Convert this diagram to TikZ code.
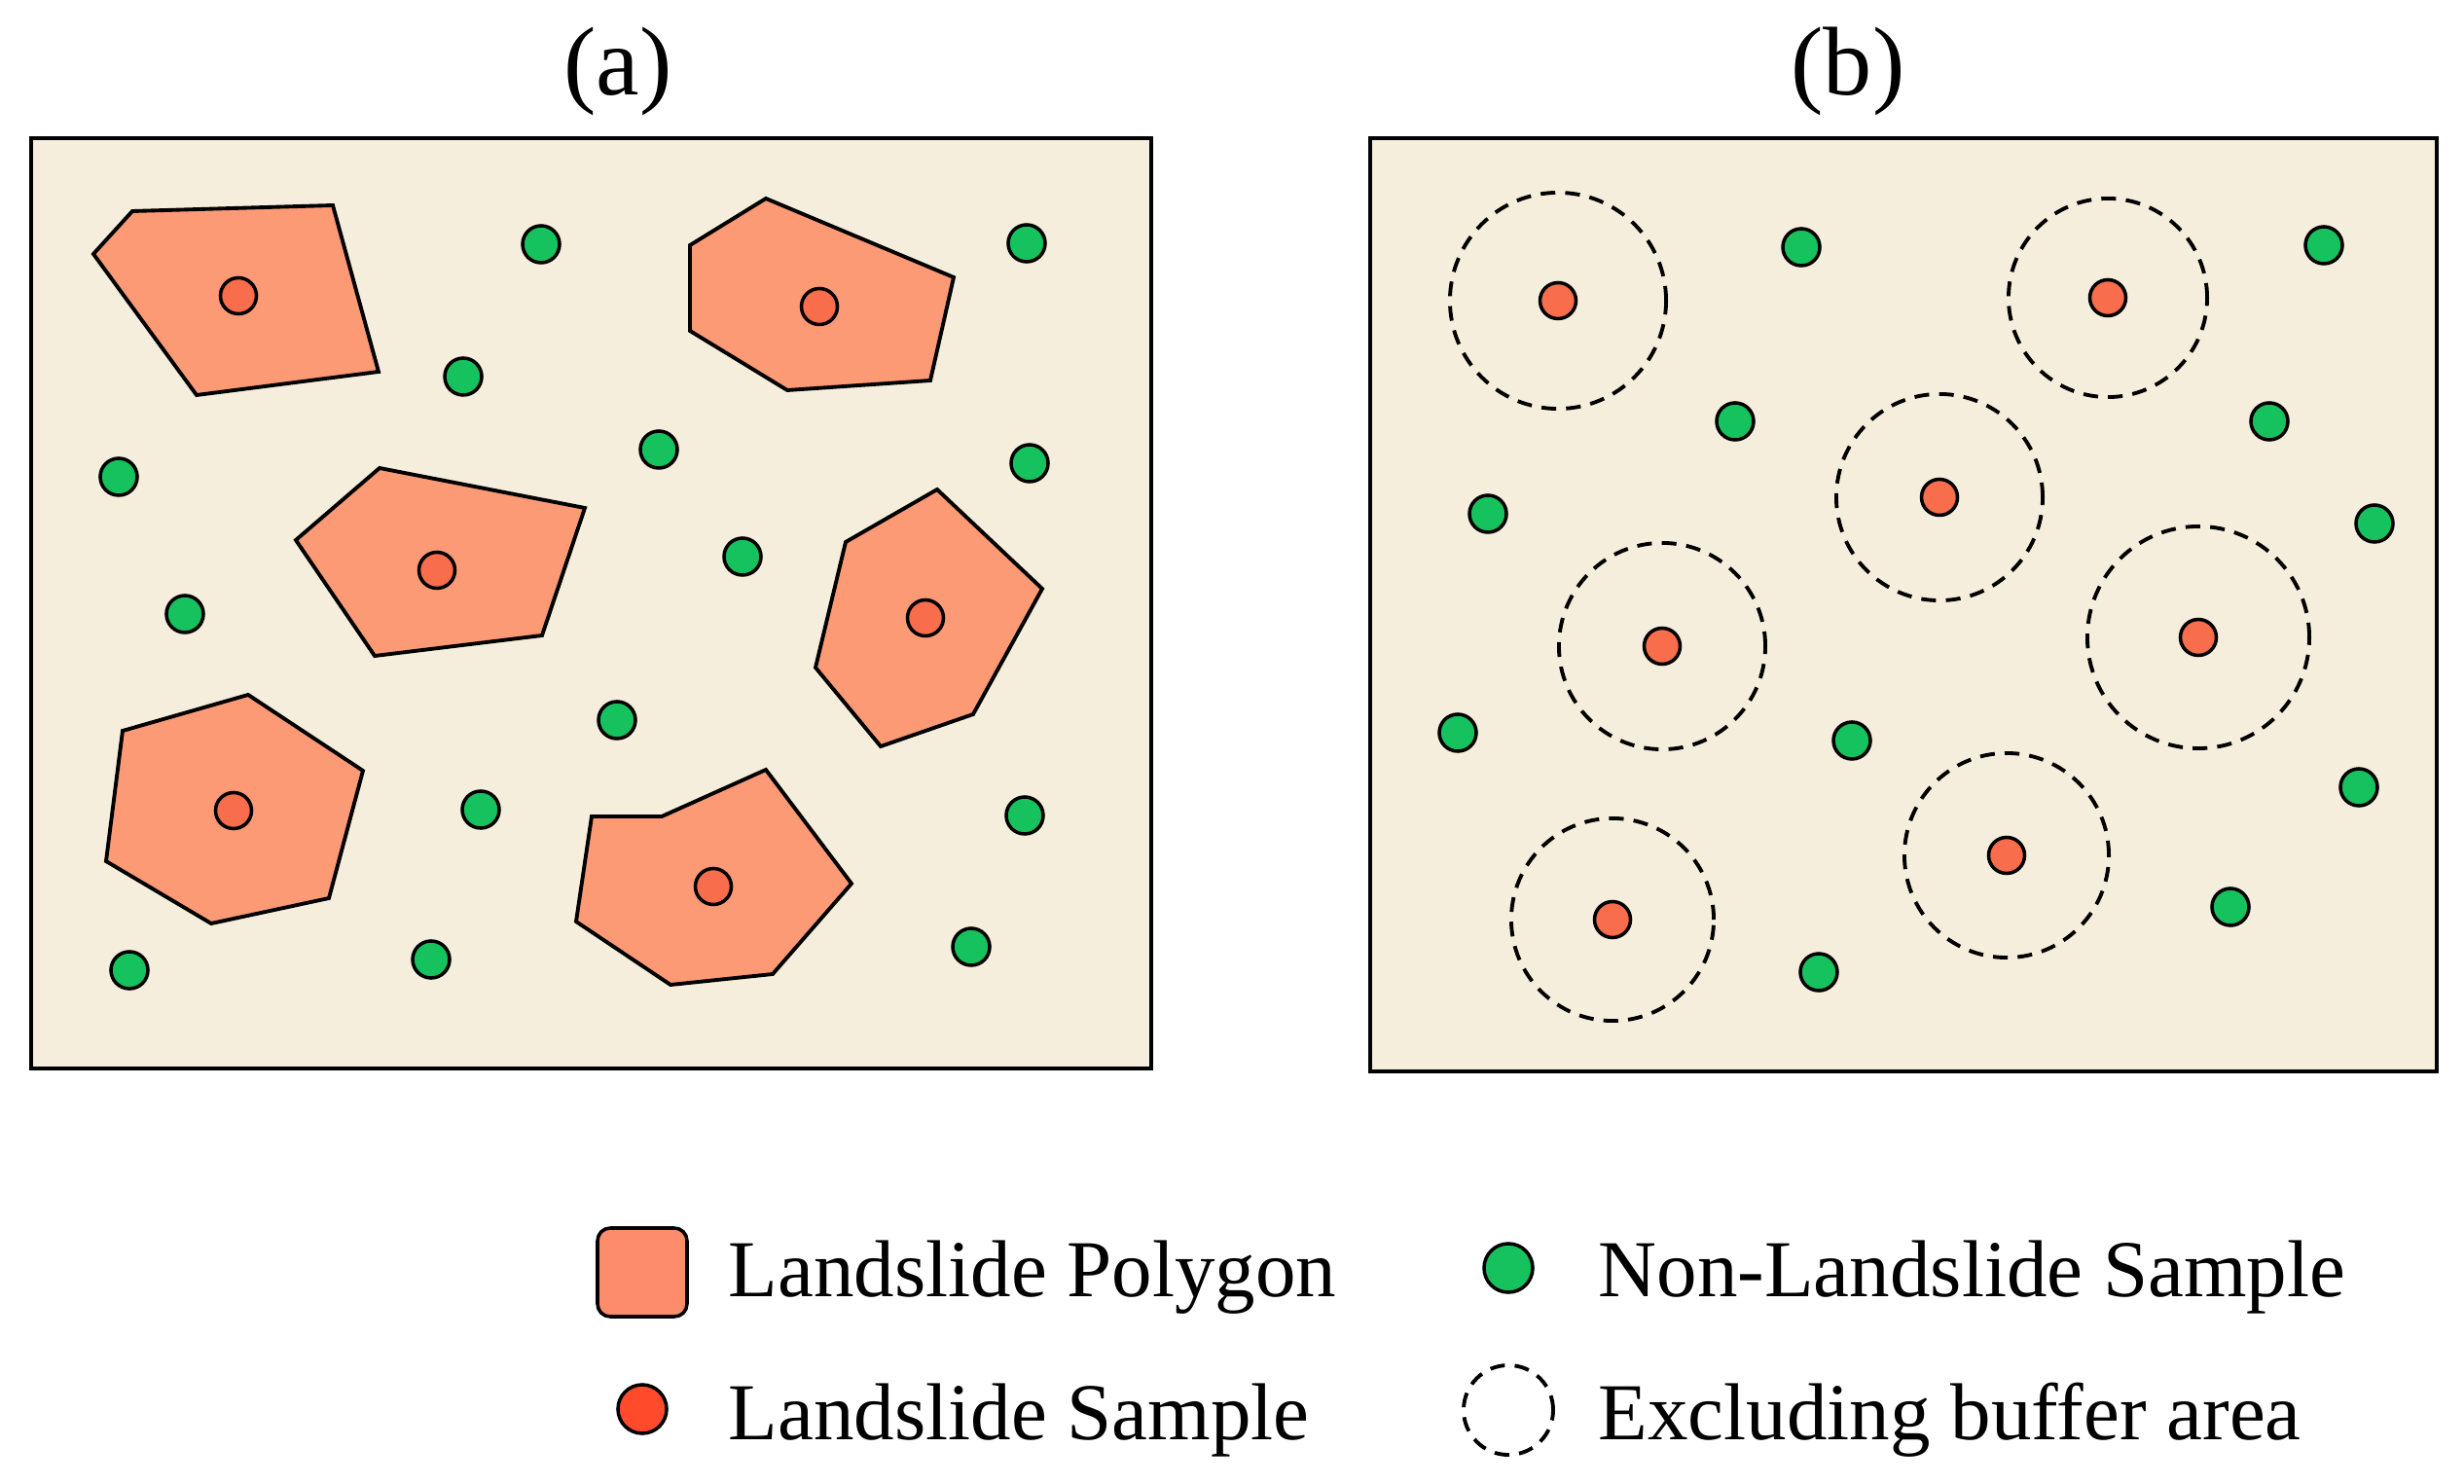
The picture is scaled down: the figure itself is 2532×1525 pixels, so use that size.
\documentclass[tikz,border=0pt]{standalone}
\usepackage{fontspec}
\setmainfont{Liberation Serif}
\definecolor{bgc}{HTML}{F5EEDC}
\definecolor{polyc}{HTML}{FC9A76}
\definecolor{redc}{HTML}{F86D4C}
\definecolor{greenc}{HTML}{16C25E}
\definecolor{legred}{HTML}{FF4B2B}
\definecolor{legpoly}{HTML}{FD8C6C}
\begin{document}
\begin{tikzpicture}[x=0.01cm,y=-0.01cm,
  panel/.style={draw=black, line width=1pt, fill=bgc},
  slide/.style={draw=black, line width=1.1pt, fill=polyc, line join=miter},
  lsdot/.style={circle, draw=black, line width=1pt, fill=redc, minimum size=0.37cm, inner sep=0pt},
  nldot/.style={circle, draw=black, line width=1pt, fill=greenc, minimum size=0.38cm, inner sep=0pt},
  buffer/.style={draw=black, line width=1.1pt, dash pattern=on 4.3pt off 2.9pt},
  titletext/.style={font=\fontsize{28.5}{30}\selectfont, anchor=base, inner sep=0pt},
  legtext/.style={font=\fontsize{23.6}{26}\selectfont, anchor=base west, inner sep=0pt}]
\path[use as bounding box, fill=white] (0,0) rectangle (2532,1525);

% titles
\node[titletext] (ta) at (635,98) {(a)};
\node[titletext] (tb) at (1899,98) {(b)};

% panel (a)
\draw[panel] (32,142) rectangle (1183,1098);
\draw[slide] (136,217) -- (342,211) -- (389,382) -- (202,406) -- (96,261) -- cycle;
\draw[slide] (787,204) -- (980,285) -- (956,391) -- (809,401) -- (709,340) -- (709,252) -- cycle;
\draw[slide] (390,481) -- (601,522) -- (557,653) -- (385,674) -- (304,555) -- cycle;
\draw[slide] (963,503) -- (1071,605) -- (1000,734) -- (905,767) -- (838,686) -- (869,557) -- cycle;
\draw[slide] (255,714) -- (373,792) -- (338,923) -- (217,949) -- (109,885) -- (126,751) -- cycle;
\draw[slide] (787,791) -- (875,908) -- (794,1001) -- (689,1012) -- (592,947) -- (608,839) -- (680,839) -- cycle;

\node[lsdot] (ar1) at (245,304) {};
\node[lsdot] (ar2) at (842,315) {};
\node[lsdot] (ar3) at (449,586) {};
\node[lsdot] (ar4) at (951,635) {};
\node[lsdot] (ar5) at (240,833) {};
\node[lsdot] (ar6) at (733,911) {};

\node[nldot] (ag1) at (556,251) {};
\node[nldot] (ag2) at (1055,250) {};
\node[nldot] (ag3) at (476,387) {};
\node[nldot] (ag4) at (677,462) {};
\node[nldot] (ag5) at (122,490) {};
\node[nldot] (ag6) at (1058,476) {};
\node[nldot] (ag7) at (763,572) {};
\node[nldot] (ag8) at (190,631) {};
\node[nldot] (ag9) at (634,740) {};
\node[nldot] (ag10) at (494,832) {};
\node[nldot] (ag11) at (1053,838) {};
\node[nldot] (ag12) at (133,997) {};
\node[nldot] (ag13) at (443,986) {};
\node[nldot] (ag14) at (998,973) {};

% panel (b)
\draw[panel] (1408,142) rectangle (2504,1101);
\coordinate (c1) at (1601,309);
\coordinate (c2) at (2166,306);
\coordinate (c3) at (1993,511);
\coordinate (c4) at (1708,664);
\coordinate (c5) at (2259,655);
\coordinate (c6) at (2062,879);
\coordinate (c7) at (1657,945);
\draw[buffer] (c1) circle[radius=1.11cm];
\draw[buffer] (c2) circle[radius=1.02cm];
\draw[buffer] (c3) circle[radius=1.06cm];
\draw[buffer] (c4) circle[radius=1.06cm];
\draw[buffer] (c5) circle[radius=1.14cm];
\draw[buffer] (c6) circle[radius=1.05cm];
\draw[buffer] (c7) circle[radius=1.04cm];

\node[lsdot] (br1) at (c1) {};
\node[lsdot] (br2) at (c2) {};
\node[lsdot] (br3) at (c3) {};
\node[lsdot] (br4) at (c4) {};
\node[lsdot] (br5) at (c5) {};
\node[lsdot] (br6) at (c6) {};
\node[lsdot] (br7) at (c7) {};

\node[nldot] (bg1) at (1851,254) {};
\node[nldot] (bg2) at (2388,252) {};
\node[nldot] (bg3) at (1783,433) {};
\node[nldot] (bg4) at (2332,433) {};
\node[nldot] (bg5) at (1529,528) {};
\node[nldot] (bg6) at (2440,538) {};
\node[nldot] (bg7) at (1498,753) {};
\node[nldot] (bg8) at (1903,761) {};
\node[nldot] (bg9) at (2424,809) {};
\node[nldot] (bg10) at (2292,932) {};
\node[nldot] (bg11) at (1869,999) {};

% legend
\draw[draw=black, line width=1pt, fill=legpoly, rounded corners=0.13cm] (614,1262) rectangle (706,1353);
\node[legtext] (l1) at (748,1332) {Landslide Polygon};
\node[circle, draw=black, line width=1pt, fill=greenc, minimum size=0.5cm, inner sep=0pt] (lg) at (1550,1303) {};
\node[legtext] (l2) at (1642,1332) {Non-Landslide Sample};
\node[circle, draw=black, line width=1pt, fill=legred, minimum size=0.5cm, inner sep=0pt] (lr) at (660,1448) {};
\node[legtext] (l3) at (748,1479) {Landslide Sample};
\coordinate (lb) at (1550,1449);
\draw[buffer] (lb) circle[radius=0.46cm];
\node[legtext] (l4) at (1642,1479) {Excluding buffer area};
\end{tikzpicture}
\end{document}
